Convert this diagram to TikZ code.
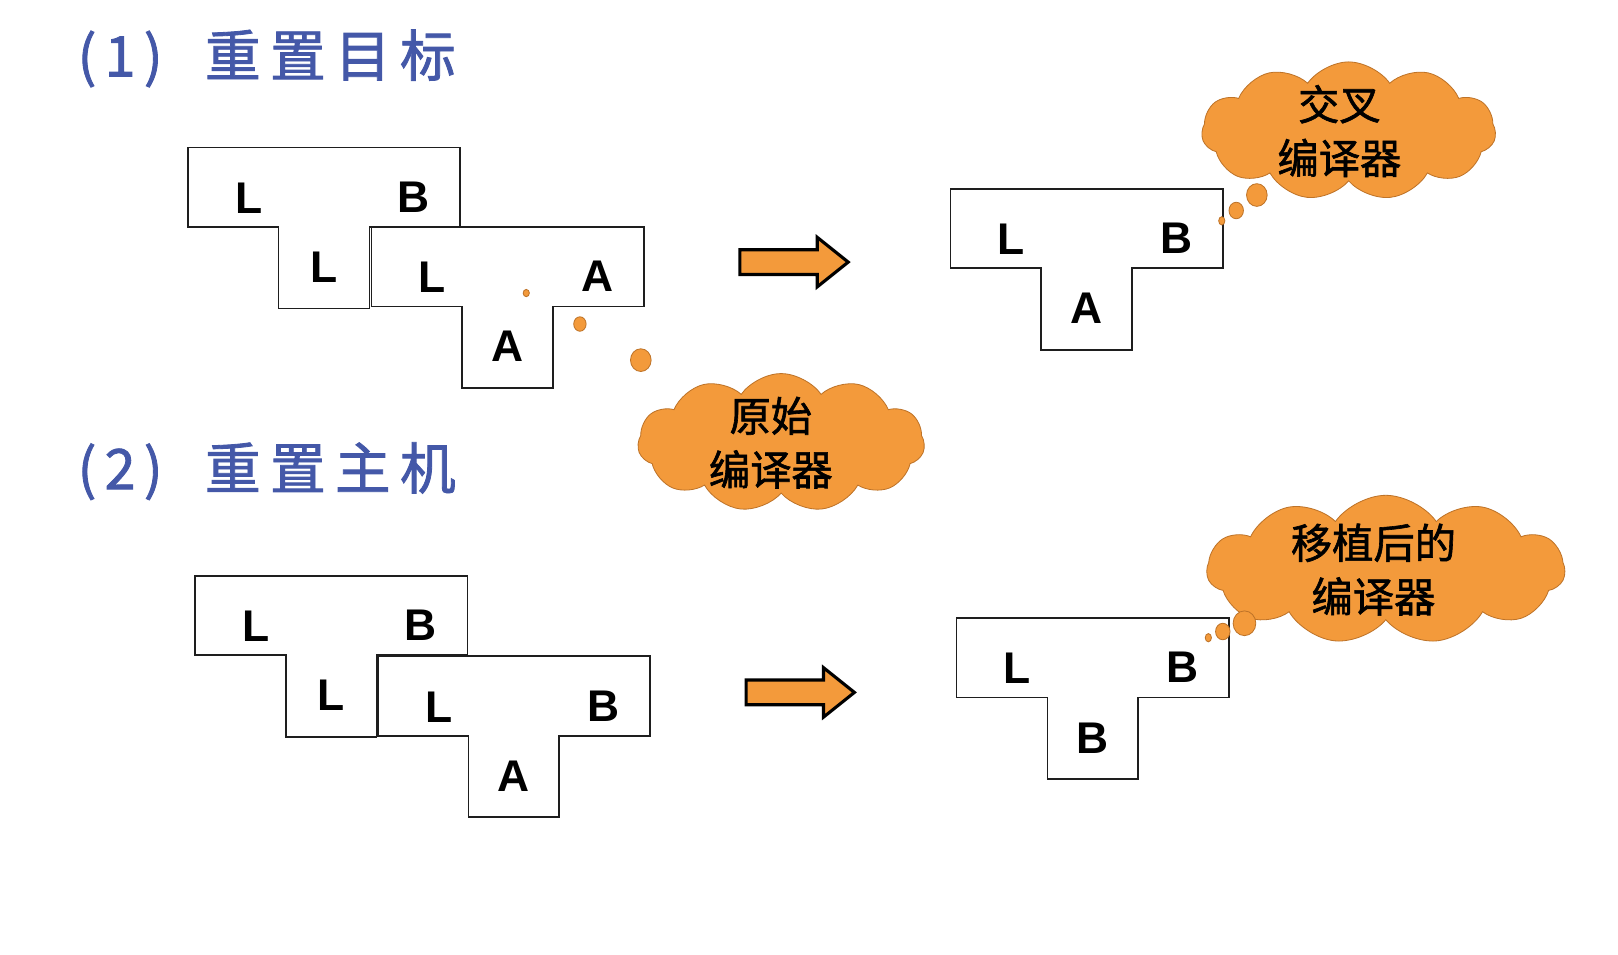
\documentclass[tikz,border=0pt]{standalone}
\usepackage{fontspec}
\setmainfont{Liberation Sans}
\newfontfamily\cjk{Noto Sans CJK SC}
\newfontfamily\cjkheavy{Noto Sans CJK SC}[FakeBold=1.5]
\usetikzlibrary{shapes.symbols}
\definecolor{cloudfill}{RGB}{243,154,59}
\definecolor{cloudline}{RGB}{190,115,40}
\definecolor{titleblue}{RGB}{68,88,168}
\definecolor{boxline}{RGB}{30,30,30}
\tikzset{
  tbox/.style={draw=boxline, line width=1.6pt, fill=white},
  lab/.style={font=\fontsize{43}{43}\selectfont\bfseries, inner sep=0pt, text=black},
  titletext/.style={font=\cjkheavy\fontsize{54}{54}\selectfont, text=titleblue, inner sep=0pt},
  thought/.style={cloud, cloud puffs=11, cloud puff arc=110, cloud ignores aspect,
    draw=cloudline, line width=0.8pt, fill=cloudfill, inner sep=0pt},
  cloudtext/.style={inner sep=0pt, align=center,
    font=\cjkheavy\fontsize{40}{52}\selectfont, text=black},
  bubble/.style={draw=cloudline, line width=0.8pt, fill=cloudfill},
  bigarrow/.style={draw=black, line width=3pt, fill=cloudfill, line join=miter},
}
\newcommand\Tblock[6]{%
  \begin{scope}[shift={(#2,#3)}]
    \draw[tbox] (0,0) -- (264,0) -- (264,77) -- (176,77) -- (176,156) -- (88,156) -- (88,77) -- (0,77) -- cycle;
    \node[lab] (#1-l) at (59,49) {#4};
    \node[lab] (#1-r) at (219,48) {#5};
    \node[lab] (#1-s) at (132,116) {#6};
  \end{scope}}
\newcommand\BigArrow[3]{%
  \begin{scope}[shift={(#2,#3)}]
    \coordinate (#1) at (0,0);
    \draw[bigarrow] (-52,-12) -- (23,-12) -- (23,-24) -- (53,0) -- (23,24) -- (23,12) -- (-52,12) -- cycle;
  \end{scope}}
\begin{document}
\begin{tikzpicture}[x=1pt,y=-1pt]
\useasboundingbox (0,0) rectangle (1568,925);
\fill[white] (0,0) rectangle (1568,925);
% titles
\node[titletext, anchor=base west] (title1) at (75,74) {(\hspace{8pt}1\hspace{8pt})\hspace{41pt}重\hspace{9pt}置\hspace{9pt}目\hspace{9pt}标};
\node[titletext, anchor=base west] (title2) at (75,474) {(\hspace{8pt}2\hspace{8pt})\hspace{41pt}重\hspace{9pt}置\hspace{9pt}主\hspace{9pt}机};
% part 1
\Tblock{ta}{182}{143}{L}{B}{L}
\Tblock{tb}{360}{220}{L}{A}{A}
\BigArrow{arr1}{769}{254}
\Tblock{tc}{921}{183}{L}{B}{A}
\node[thought] (c1) at (1307,127) [minimum width=285pt, minimum height=134pt] {};
\node[cloudtext] (c1t) at (1298,127) {交叉\\编译器};
\draw[bubble] (1218,189) ellipse [x radius=10, y radius=11];
\draw[bubble] (1198,204) ellipse [x radius=7, y radius=8];
\draw[bubble] (1184,214) ellipse [x radius=3, y radius=4];
\node[thought] (c2) at (757,429) [minimum width=278pt, minimum height=134pt] {};
\node[cloudtext] (c2t) at (747,429) {原始\\编译器};
\draw[bubble] (510,284) ellipse [x radius=3, y radius=3.5];
\draw[bubble] (562,314) ellipse [x radius=6, y radius=7];
\draw[bubble] (621,349) ellipse [x radius=10, y radius=11];
% part 2
\Tblock{td}{189}{558}{L}{B}{L}
\Tblock{te}{366}{636}{L}{B}{A}
\BigArrow{arr2}{775}{671}
\Tblock{tf}{927}{599}{L}{B}{B}
\node[thought] (c3) at (1343,552) [minimum width=347pt, minimum height=144pt] {};
\node[cloudtext] (c3t) at (1331,552) {移植后的\\编译器};
\draw[bubble] (1206,604) ellipse [x radius=11, y radius=12];
\draw[bubble] (1185,612) ellipse [x radius=7, y radius=8];
\draw[bubble] (1171,618) ellipse [x radius=3, y radius=4];
\end{tikzpicture}
\end{document}
